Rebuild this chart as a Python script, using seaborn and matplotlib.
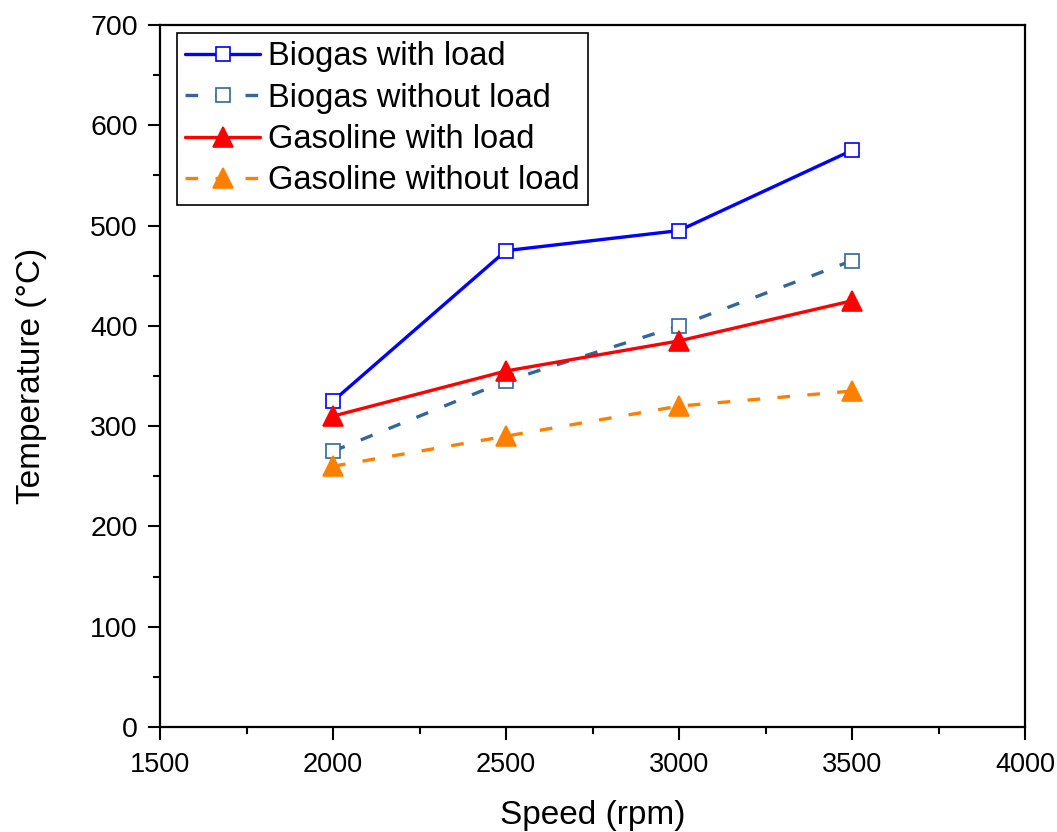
import matplotlib
matplotlib.use("Agg")
import matplotlib.pyplot as plt
from matplotlib.ticker import MultipleLocator
import seaborn as sns
import pandas as pd

speed = [2000, 2500, 3000, 3500]
biogas_load = [325, 475, 495, 575]
biogas_noload = [275, 345, 400, 465]
gasoline_load = [310, 355, 385, 425]
gasoline_noload = [260, 290, 320, 335]

series = ["Biogas with load", "Biogas without load", "Gasoline with load", "Gasoline without load"]
values = [biogas_load, biogas_noload, gasoline_load, gasoline_noload]
colors = ["#0000FF", "#336699", "#FF0000", "#FF8000"]
markers = ["s", "s", "^", "^"]
filled = [False, False, True, True]
linestyles = ["-", (0, (3.8, 5.2)), "-", (0, (3.8, 5.2))]

sns.set_theme(style="ticks")
plt.rcParams['font.family'] = ['Liberation Sans', 'DejaVu Sans']
plt.rcParams['text.color'] = 'black'
plt.rcParams['axes.labelcolor'] = 'black'
plt.rcParams['xtick.color'] = 'black'
plt.rcParams['ytick.color'] = 'black'

fig = plt.figure(figsize=(10.57, 8.32), dpi=100)
ax = fig.add_axes([160/1057, 105/832, 865/1057, 702/832])

for name, vals, c, m, f, ls in zip(series, values, colors, markers, filled, linestyles):
    df = pd.DataFrame({"Speed": speed, "Temp": vals})
    sns.lineplot(data=df, x="Speed", y="Temp", ax=ax, color=c, marker=m,
                 markersize=10 if m == "s" else 14,
                 markerfacecolor="white" if not f else c,
                 markeredgecolor=c, markeredgewidth=1.2,
                 linewidth=2.4, linestyle=ls, label=name)

ax.set_xlim(1500, 4000)
ax.set_ylim(0, 700)
ax.xaxis.set_major_locator(MultipleLocator(500))
ax.xaxis.set_minor_locator(MultipleLocator(250))
ax.yaxis.set_major_locator(MultipleLocator(100))
ax.yaxis.set_minor_locator(MultipleLocator(50))
ax.tick_params(which="major", direction="out", length=9, width=1.5)
ax.tick_params(axis="x", which="major", labelsize=19.5, pad=9)
ax.tick_params(axis="y", which="major", labelsize=20.5, pad=7)
ax.tick_params(which="minor", direction="out", length=5, width=1.5)
ax.tick_params(top=False, right=False)
for s in ax.spines.values():
    s.set_linewidth(1.6)
    s.set_color("black")

ax.set_xlabel("Speed (rpm)", fontsize=24, labelpad=16)
ax.set_ylabel("Temperature (°C)", fontsize=24, labelpad=31)

leg = ax.legend(loc="upper left", fontsize=23.5, frameon=True, fancybox=False,
                edgecolor="black", handlelength=2.3, borderpad=0.25,
                labelspacing=0.32, handletextpad=0.25, borderaxespad=0.0,
                bbox_to_anchor=(17/865, 1 - 8/702), framealpha=1)
leg.get_frame().set_linewidth(1.2)

fig.savefig("out.png", dpi=100)
